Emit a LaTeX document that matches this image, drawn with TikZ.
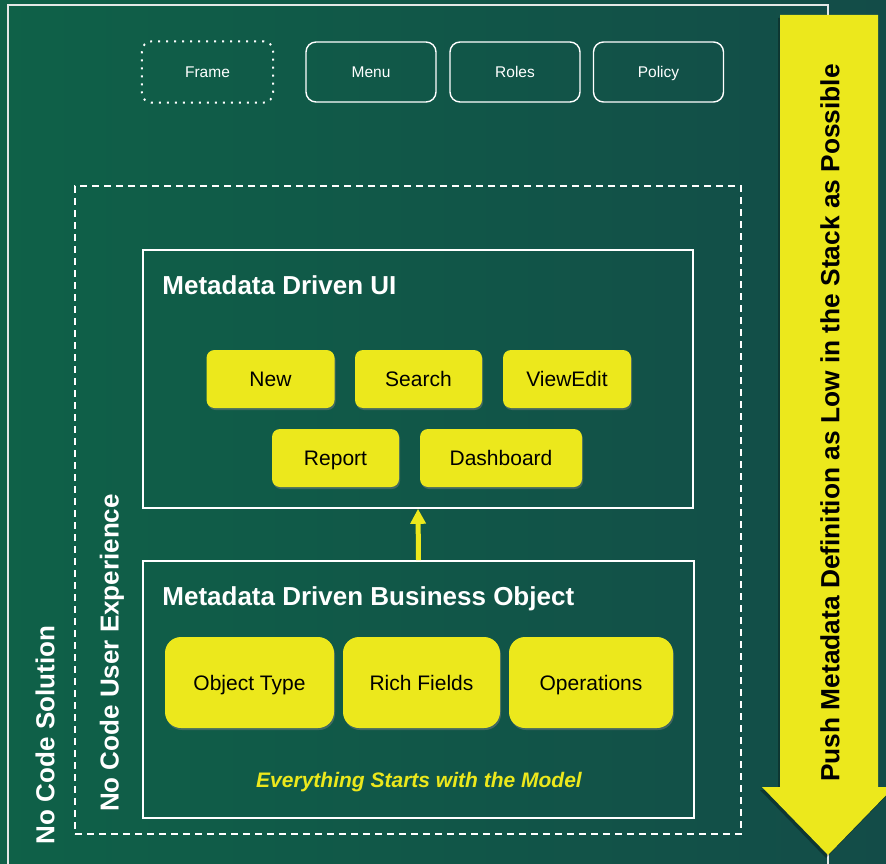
\documentclass[tikz,border=0pt]{standalone}
\usepackage{fontspec}
\setmainfont{Liberation Sans}
\usetikzlibrary{calc,arrows.meta,shadows}
\definecolor{bgleft}{RGB}{15,97,72}
\definecolor{bgright}{RGB}{19,76,72}
\definecolor{hiyellow}{RGB}{236,232,28}
\definecolor{framegray}{RGB}{228,232,230}

\begin{document}
\begin{tikzpicture}[x=1pt,y=-1pt,
  topbtn/.style={draw=white,line width=1.4pt,rounded corners=10pt,minimum width=130pt,minimum height=60pt,inner sep=0pt,text=white,text height=11pt,text depth=0pt,font=\fontsize{15.5}{18}\selectfont},
  uibtn/.style={fill=hiyellow,rounded corners=8pt,minimum height=58pt,inner sep=0pt,text height=15pt,text depth=0pt,font=\fontsize{21}{25}\selectfont,drop shadow={shadow xshift=1pt,shadow yshift=-2pt,opacity=.45}},
  bobtn/.style={uibtn,rounded corners=16pt,minimum height=91pt},
  layer/.style={draw=white,line width=1.6pt,inner sep=0pt},
  boxtitle/.style={anchor=base west,text=white,font=\bfseries\fontsize{26}{30}\selectfont,inner sep=0pt},
  sidetext/.style={rotate=90,text=white,font=\bfseries\fontsize{26}{30}\selectfont,inner sep=0pt}]
\useasboundingbox (0,0) rectangle (886,864);
\shade[left color=bgleft,right color=bgright] (0,0) rectangle (886,864);

% outer frame, open at the bottom
\draw[framegray,line width=1.4pt] (8,5) rectangle (828,900);

% top row
\draw node [topbtn,draw=none] (frame) at (207.5,72){Frame};
\draw[white,line width=2pt,dash pattern=on 2pt off 6pt,rounded corners=10pt] (frame.north west) rectangle (frame.south east);
\draw node [topbtn] (menu) at (371,72){Menu};
\draw node [topbtn] (roles) at (515,72){Roles};
\draw node [topbtn] (policy) at (658.5,72){Policy};

% no code user experience
\draw node [draw=white,line width=1.4pt,dash pattern=on 7pt off 5pt,minimum width=666pt,minimum height=648pt,inner sep=0pt] (uxbox) at (408,510){};

% metadata driven ui
\draw node [layer,minimum width=550pt,minimum height=258pt] (uibox) at (418,379){};
\draw node [boxtitle] (uititle) at ($ (uibox.north west)+(20,45)$){Metadata Driven UI};
\draw node [uibtn,minimum width=128pt] (new) at (270.5,379){New};
\draw node [uibtn,minimum width=127pt] (search) at (418.5,379){Search};
\draw node [uibtn,minimum width=128pt] (viewedit) at (567,379){ViewEdit};
\draw node [uibtn,minimum width=127pt] (report) at (335.5,458){Report};
\draw node [uibtn,minimum width=162pt] (dashboard) at (501,458){Dashboard};

% metadata driven business object
\draw node [layer,minimum width=551pt,minimum height=257pt] (bobox) at (418.5,689.5){};
\draw node [boxtitle] (botitle) at ($ (bobox.north west)+(20,45)$){Metadata Driven Business Object};
\draw node [bobtn,minimum width=169pt] (objtype) at (249.5,682.5){Object Type};
\draw node [bobtn,minimum width=157pt] (richfields) at (421.5,682.5){Rich Fields};
\draw node [bobtn,minimum width=164pt] (operations) at (591,682.5){Operations};
\draw node [anchor=base,text=hiyellow,inner sep=0pt,font=\bfseries\itshape\fontsize{21}{25}\selectfont] (motto) at ($ (bobox.south)+(0.5,-31)$){Everything Starts with the Model};

\draw[-{Triangle[width=15pt,length=15pt]},hiyellow,line width=5pt] (bobox.north) -- (uibox.south);

% side labels
\draw node [sidetext] (solution) at (45,735){No Code Solution};
\draw node [sidetext] (userexp) at (112,653){No Code User Experience};

% push arrow
\fill[black,opacity=.3] (778,18) -- (876,18) -- (876,790) -- (892,790) -- (826,858) -- (760,790) -- (778,790) -- cycle;
\fill[hiyellow] (780,15) -- (878,15) -- (878,787) -- (894,787) -- (828,855) -- (762,787) -- (780,787) -- cycle;
\draw node [rotate=90,inner sep=0pt,font=\bfseries\fontsize{26.3}{30}\selectfont] (push) at (830,423){Push Metadata Definition as Low in the Stack as Possible};
\end{tikzpicture}
\end{document}
